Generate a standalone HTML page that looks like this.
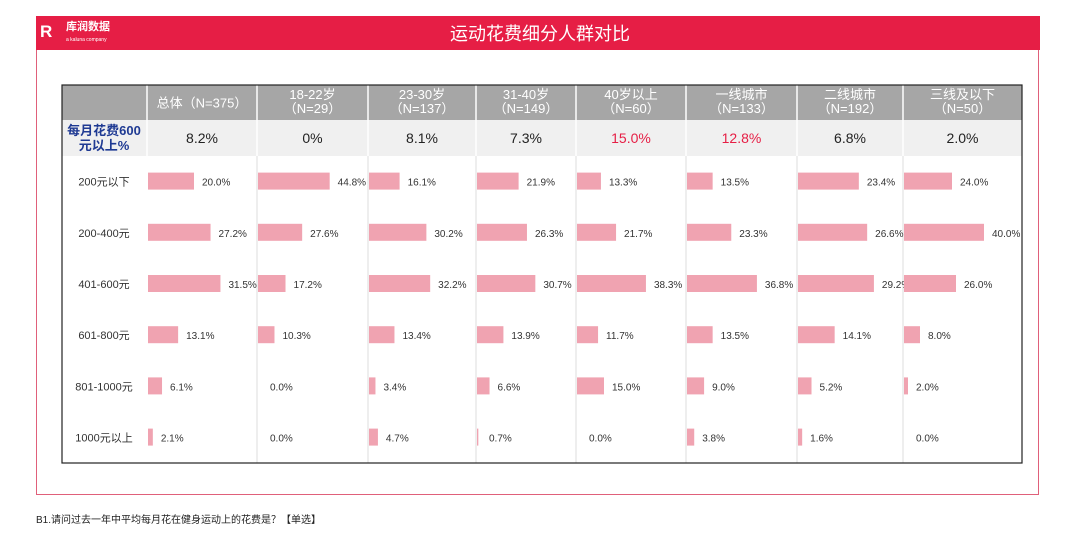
<!DOCTYPE html>
<html><head><meta charset="utf-8">
<style>
body{margin:0;width:1080px;height:536px;background:#fff;font-family:"Liberation Sans","Noto Sans CJK SC",sans-serif;position:relative;overflow:hidden}
.abs{position:absolute}
</style></head><body>
<div class="abs" style="left:36px;top:16px;width:1003px;height:479px;border:1px solid #e0607a;box-sizing:border-box"></div>
<div class="abs" style="left:36px;top:16px;width:1004px;height:34px;background:#e61e45"></div>
<div class="abs" style="left:40px;top:22px;color:#fff;font-weight:bold;font-size:17px">R</div>
<div class="abs" style="left:66px;top:22px;color:#fff;font-size:11px;font-weight:bold;line-height:11px">库润数据<br><span style="font-size:5px;font-weight:normal">a kaluna company</span></div>
<div class="abs" style="left:0;width:1080px;top:20px;text-align:center;color:#fff;font-size:18px">运动花费细分人群对比</div>
<svg class="abs" style="left:0;top:0" width="1080" height="536" id="chart"></svg>
<div class="abs" style="left:36px;top:511px;font-size:10px;color:#222">B1.请问过去一年中平均每月花在健身运动上的花费是？【单选】</div>
<script>
const groups=["总体（N=375）","18-22岁|（N=29）","23-30岁|（N=137）","31-40岁|（N=149）","40岁以上|（N=60）","一线城市|（N=133）","二线城市|（N=192）","三线及以下|（N=50）"];
const over600=["8.2%","0%","8.1%","7.3%","15.0%","12.8%","6.8%","2.0%"];
const highlight=[false,false,false,false,true,true,false,false];
const categories=["200元以下","200-400元","401-600元","601-800元","801-1000元","1000元以上"];
const s_total=[20.0,27.2,31.5,13.1,6.1,2.1];
const s_1822=[44.8,27.6,17.2,10.3,0.0,0.0];
const s_2330=[16.1,30.2,32.2,13.4,3.4,4.7];
const s_3140=[21.9,26.3,30.7,13.9,6.6,0.7];
const s_40p=[13.3,21.7,38.3,11.7,15.0,0.0];
const s_t1=[13.5,23.3,36.8,13.5,9.0,3.8];
const s_t2=[23.4,26.6,29.2,14.1,5.2,1.6];
const s_t3=[24.0,40.0,26.0,8.0,2.0,0.0];
const series=[s_total,s_1822,s_2330,s_3140,s_40p,s_t1,s_t2,s_t3];
const colX=[62,147,257,368,476,576,686,797,903,1022];
const pxPer=[2.3,1.6,1.9,1.9,1.8,1.9,2.6,2.0];
const svg=document.getElementById('chart');
const NS='http://www.w3.org/2000/svg';
function mk(t,a){const e=document.createElementNS(NS,t);for(const k in a)e.setAttribute(k,a[k]);svg.appendChild(e);return e;}
const top0=85,h1=35,h2=36,rowTop=156,rowH=51.2,bottom=463;
let r=mk('rect',{x:62,y:top0,width:960,height:h1,fill:'#a6a6a6'});

r=mk('rect',{x:62,y:top0+h1,width:960,height:h2,fill:'#f0f0f0'});

for(let i=1;i<colX.length-1;i++){
  let l=mk('line',{x1:colX[i],x2:colX[i],y1:top0,y2:bottom,stroke:i==1?'#fff':'#ddd','stroke-width':1});
  
}
for(let i=1;i<colX.length-1;i++){
  let l=mk('line',{x1:colX[i],x2:colX[i],y1:top0,y2:top0+h1+h2,stroke:'#fff','stroke-width':1.5});
  
}
groups.forEach((g,i)=>{
  const cx=(colX[i+1]+colX[i+2])/2;const parts=g.split('|');
  parts.forEach((p,j)=>{
    const y=parts.length==1?top0+h1/2+5:top0+14+j*14;
    let t=mk('text',{x:cx,y:y,'text-anchor':'middle',fill:'#fff','font-size':13});t.textContent=p;
    
  });
  let t=mk('text',{x:cx,y:top0+h1+h2/2+5,'text-anchor':'middle',fill:highlight[i]?'#e61e45':'#222','font-size':14});
  t.textContent=over600[i];
  
});
[["每月花费600",top0+h1+15],["元以上%",top0+h1+30]].forEach(a=>{
  let t=mk('text',{x:104,y:a[1],'text-anchor':'middle',fill:'#1f3a93','font-size':13,'font-weight':'bold'});t.textContent=a[0];
  
});
categories.forEach((c,ri)=>{
  const cy=rowTop+rowH*ri+rowH/2;
  let t=mk('text',{x:104,y:cy+4,'text-anchor':'middle',fill:'#333','font-size':11});t.textContent=c;
  
  series.forEach((s,ci)=>{
    const x0=colX[ci+1]+1;const w=s[ri]*pxPer[ci];
    let b=mk('rect',{x:x0,y:cy-9,width:w,height:17,fill:'#f0a3b1'});
    
    let v=mk('text',{x:x0+Math.max(w,4)+8,y:cy+4,fill:'#333','font-size':10});v.textContent=s[ri].toFixed(1)+'%';
    
  });
});
r=mk('rect',{x:62,y:top0,width:960,height:bottom-top0,fill:'none',stroke:'#222','stroke-width':1.2});

</script>
</body></html>
